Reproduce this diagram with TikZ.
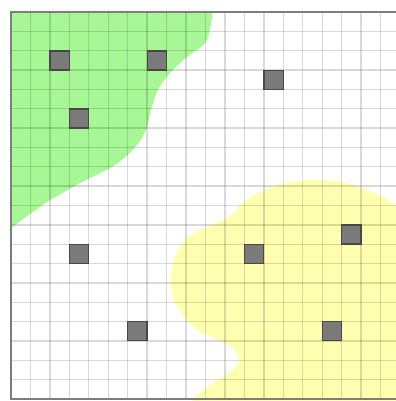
\documentclass[tikz,border=0pt]{standalone}
\begin{document}
\begin{tikzpicture}[x=0.75pt,y=-0.75pt]
\definecolor{zgreen}{RGB}{168,247,150}
\definecolor{zyellow}{RGB}{255,255,176}
\definecolor{framec}{RGB}{125,125,125}
\definecolor{obsfill}{RGB}{122,122,122}
\definecolor{obsdraw}{RGB}{72,72,72}
\tikzset{
  gridline/.style={draw=black, opacity=0.15, line width=1pt},
  framebox/.style={draw=framec, line width=1.5pt},
  obst/.style={rectangle, fill=obsfill, draw=obsdraw, line width=1pt,
    minimum width=14.4pt, minimum height=14.3pt, inner sep=0pt}
}
\useasboundingbox (0,0) rectangle (396,401);
\clip (0,0) rectangle (396,401);
\fill[white] (0,0) rectangle (396,401);
% green zone
\fill[zgreen] (11,12) -- (212,12) -- plot[smooth, tension=0.6] coordinates {(212,12) (211,25) (205,43) (187,57) (170,73) (158,90) (151,110) (146,130) (136,146) (115,165) (82,182) (52,199) (30,214) (11,228)} -- cycle;
% yellow zone
\fill[zyellow] (400,210) -- plot[smooth, tension=0.6] coordinates {(400,210) (383,197) (346,183) (313,180) (279,185) (248,199) (230,216) (210,226) (194,233) (180,247) (172,267) (172,293) (180,311) (196,329) (216,339) (232,347) (239,358) (233,370) (216,381) (201,392) (192,401)} -- (400,401) -- cycle;
% grid
\foreach \k in {0,...,20}{
  \draw[gridline] ({11+19.45*\k},12) -- ({11+19.45*\k},399);
  \draw[gridline] (11,{12+19.35*\k}) -- (400,{12+19.35*\k});
}
% frame
\draw[framebox] (11,12) rectangle (400,399);
% obstacles (cell centres)
\foreach \n/\c/\r in {o1/2/2, o2/7/2, o3/3/5, o4/13/3, o5/3/12, o6/6/16, o7/12/12, o8/17/11, o9/16/16}{
  \node[obst] (\n) at ({11+19.45*(\c+0.5)},{12+19.35*(\r+0.5)}) {};
}
\end{tikzpicture}
\end{document}
